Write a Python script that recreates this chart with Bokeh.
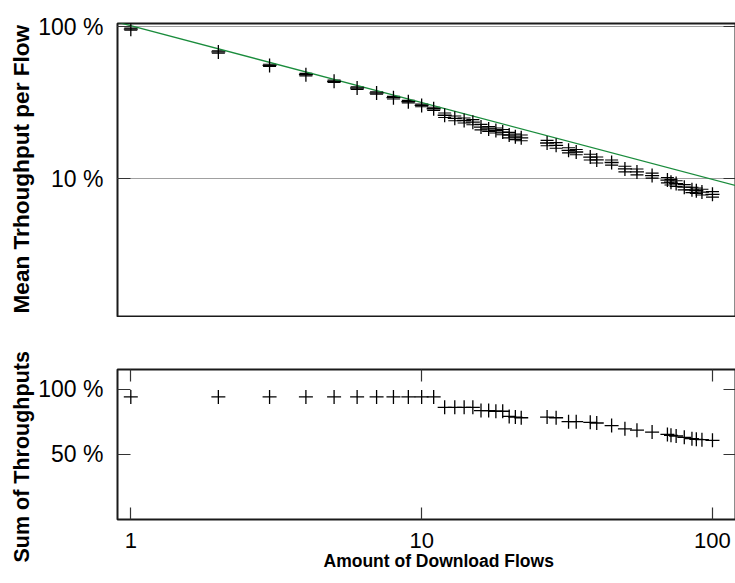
from bokeh.plotting import figure
from bokeh.layouts import column
from bokeh.models import (FixedTicker, CustomJSTickFormatter, LogAxis, LinearAxis,
                          Range1d, ColumnDataSource, Whisker, TeeHead, Title)
from bokeh.embed import file_html
from bokeh.resources import INLINE

# ---------------- data ----------------
flows = [1, 2, 3, 4, 5, 6, 7, 8, 9, 10, 11, 12, 13, 14, 15, 16, 17, 18, 19, 20,
         21, 22, 27, 29, 32, 34, 38, 40, 45, 50, 55, 62, 70, 72, 75, 80, 85, 88, 92, 100]
mean_tp = [0.966, 0.684, 0.558, 0.485, 0.438, 0.396, 0.367, 0.342, 0.322, 0.304,
           0.289, 0.262, 0.250, 0.242, 0.236, 0.219, 0.213, 0.208, 0.203, 0.194,
           0.189, 0.186, 0.172, 0.166, 0.154, 0.150, 0.139, 0.133, 0.128, 0.116,
           0.111, 0.105, 0.098, 0.095, 0.093, 0.088, 0.0845, 0.0835, 0.0817, 0.079]
mean_err = [0.015, 0.012, 0.010, 0.009, 0.008, 0.008, 0.007, 0.007, 0.006, 0.006,
            0.007, 0.009, 0.009, 0.009, 0.009, 0.009, 0.008, 0.008, 0.008, 0.008,
            0.008, 0.008, 0.007, 0.007, 0.006, 0.006, 0.006, 0.006, 0.005, 0.005,
            0.005, 0.004, 0.004, 0.004, 0.004, 0.0035, 0.0035, 0.0035, 0.0035, 0.0033]
sum_tp = [0.94, 0.94, 0.94, 0.94, 0.94, 0.94, 0.94, 0.94, 0.94, 0.94,
          0.94, 0.86, 0.86, 0.86, 0.86, 0.835, 0.835, 0.83, 0.83, 0.79,
          0.785, 0.78, 0.785, 0.78, 0.75, 0.75, 0.745, 0.74, 0.72, 0.695,
          0.685, 0.67, 0.652, 0.645, 0.64, 0.63, 0.62, 0.615, 0.612, 0.607]
fit_x = [0.9, 120]
fit_y = [1.074, 0.0903]

x_ticks = [1, 10, 100]
top_y_ticks = [0.1, 1.0]
bottom_y_ticks = [0.5, 1.0]

x_title = "Amount of Download Flows"
top_title = "Mean Trhoughput per Flow"
bottom_title = "Sum of Throughputs"

FONT = "Liberation Sans"
TICK_COLOR = "#333333"
pct_fmt = CustomJSTickFormatter(code="return Math.round(tick*100) + ' %'")
int_fmt = CustomJSTickFormatter(code="return String(Math.round(tick))")
blank_fmt = CustomJSTickFormatter(code="return ''")

x_range = Range1d(0.9, 120)
W = 737


def style_left(ax, ticks):
    ax.ticker = FixedTicker(ticks=ticks, minor_ticks=[])
    ax.formatter = pct_fmt
    ax.major_label_text_font = FONT
    ax.major_label_text_font_size = "23px"
    ax.major_label_text_color = "black"
    ax.major_label_standoff = 14
    ax.major_tick_in = 13
    ax.major_tick_out = 0
    ax.major_tick_line_color = TICK_COLOR
    ax.major_tick_line_width = 1.2
    ax.minor_tick_line_color = None
    ax.axis_line_color = None


def mirror_axis(cls, ticks):
    return cls(ticker=FixedTicker(ticks=ticks, minor_ticks=[]),
               formatter=blank_fmt, major_label_standoff=0,
               major_label_text_font_size="10px",
               major_tick_in=12, major_tick_out=0,
               major_tick_line_color=TICK_COLOR, major_tick_line_width=1.2,
               minor_tick_line_color=None, axis_line_color=None)


def side_title(text, size, offset, standoff=0):
    return Title(text=text, align="left", offset=offset, standoff=standoff,
                 text_font=FONT, text_font_style="bold", text_font_size=size,
                 text_color="black")


# ---------------- top panel ----------------
p1 = figure(width=W, height=317, x_axis_type="log", y_axis_type="log",
            x_range=x_range, y_range=Range1d(0.0122, 1.053),
            x_axis_location=None, output_backend="svg", toolbar_location=None,
            min_border_left=117, min_border_right=2, min_border_top=23,
            min_border_bottom=0)
style_left(p1.yaxis[0], top_y_ticks)
p1.add_layout(mirror_axis(LogAxis, top_y_ticks), "right")
p1.add_layout(side_title(top_title, "22.6px", 4, 3), "left")
p1.xgrid.visible = False
p1.ygrid.ticker = FixedTicker(ticks=top_y_ticks, minor_ticks=[])
p1.ygrid.grid_line_color = "#a0a0a0"
p1.ygrid.grid_line_width = 1
p1.outline_line_color = "#1a1a1a"
p1.outline_line_width = 2

src = ColumnDataSource(dict(
    x=flows, y=mean_tp,
    lo=[m - e for m, e in zip(mean_tp, mean_err)],
    hi=[m + e for m, e in zip(mean_tp, mean_err)]))
p1.line(fit_x, fit_y, line_color="#1a8c3c", line_width=1.3)
p1.add_layout(Whisker(source=src, base="x", lower="lo", upper="hi",
                      dimension="height", line_color="black", line_width=1.0,
                      upper_head=TeeHead(size=13, line_color="black", line_width=1.1),
                      lower_head=TeeHead(size=13, line_color="black", line_width=1.1)))
p1.scatter("x", "y", source=src, marker="cross", size=14,
           line_color="black", line_width=1.3)

# ---------------- bottom panel ----------------
p2 = figure(width=W, height=266, x_axis_type="log",
            x_range=x_range, y_range=Range1d(0, 1.15),
            output_backend="svg", toolbar_location=None,
            min_border_left=117, min_border_right=2, min_border_top=52,
            min_border_bottom=64)
style_left(p2.yaxis[0], bottom_y_ticks)
xa = p2.below[0]
p2.add_layout(mirror_axis(LinearAxis, bottom_y_ticks), "right")
p2.add_layout(mirror_axis(LogAxis, x_ticks), "above")
p2.add_layout(side_title(bottom_title, "21.5px", -43, 3), "left")
xa.ticker = FixedTicker(ticks=x_ticks, minor_ticks=[])
xa.formatter = int_fmt
xa.major_label_text_font = FONT
xa.major_label_text_font_size = "22px"
xa.major_label_text_color = "black"
xa.major_label_standoff = 13
xa.major_tick_in = 12
xa.major_tick_out = 0
xa.major_tick_line_color = TICK_COLOR
xa.major_tick_line_width = 1.2
xa.minor_tick_line_color = None
xa.axis_line_color = None
p2.add_layout(side_title(x_title, "17.5px", 206, -3), "below")
p2.grid.visible = False
p2.outline_line_color = "#1a1a1a"
p2.outline_line_width = 2
p2.scatter(flows, sum_tp, marker="cross", size=14, line_color="black", line_width=1.3)

layout = column(p1, p2, spacing=0)
open("out.html", "w").write(file_html(layout, INLINE))
